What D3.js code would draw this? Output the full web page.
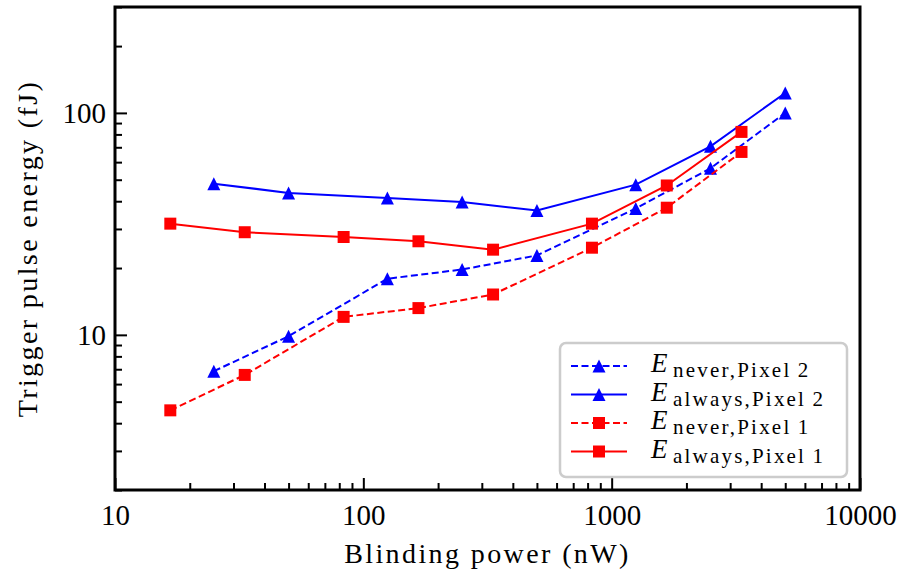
<!DOCTYPE html>
<html>
<head>
<meta charset="utf-8">
<script src="https://cdn.jsdelivr.net/npm/d3@7"></script>
</head>
<body style="margin:0;background:#fff">
<svg id="chart" width="900" height="577"></svg>
<script>
// Blinding power (nW) at which each pixel was measured
const powerPixel2 = [25, 50, 125, 250, 500, 1250, 2500, 5000];
const powerPixel1 = [16.7, 33.3, 83.3, 166.7, 333, 833, 1667, 3333];

// Trigger pulse energy (fJ)
const neverPixel2  = [6.86, 9.86, 17.9, 19.7, 22.8, 37.1, 56.3, 100];
const alwaysPixel2 = [48.0, 43.6, 41.4, 39.7, 36.3, 47.5, 70.7, 123];
const neverPixel1  = [4.57, 6.6, 12.05, 13.2, 15.2, 24.7, 37.4, 66.7];
const alwaysPixel1 = [31.7, 29.0, 27.6, 26.4, 24.2, 31.7, 47.1, 82.1];

const xTickValues = [10, 100, 1000, 10000];
const yTickValues = [10, 100];
const xLabel = "Blinding power (nW)";
const yLabel = "Trigger pulse energy (fJ)";

const series = [
  { name: "never",  pixel: "2", x: powerPixel2, y: neverPixel2,  color: "#0000ff", dashed: true,  marker: "triangle" },
  { name: "always", pixel: "2", x: powerPixel2, y: alwaysPixel2, color: "#0000ff", dashed: false, marker: "triangle" },
  { name: "never",  pixel: "1", x: powerPixel1, y: neverPixel1,  color: "#ff0000", dashed: true,  marker: "square" },
  { name: "always", pixel: "1", x: powerPixel1, y: alwaysPixel1, color: "#ff0000", dashed: false, marker: "square" }
];

const FONT = "Liberation Serif";
const svg = d3.select("#chart");
const plotLeft = 115, plotRight = 860, plotTop = 7, plotBottom = 490;

const x = d3.scaleLog().domain([10, 10000]).range([plotLeft, plotRight]);
const y = d3.scaleLog().domain([2, 300]).range([plotBottom, plotTop]);

// minor tick positions for both log axes
function minorTicks(lo, hi) {
  const out = [];
  for (let d = Math.pow(10, Math.floor(Math.log10(lo))); d < hi; d *= 10) {
    for (let k = 2; k <= 9; k++) {
      const v = k * d;
      if (v >= lo && v <= hi) out.push(v);
    }
  }
  return out;
}

// x axis: inward ticks
svg.append("g").attr("transform", `translate(0,${plotBottom})`)
  .call(d3.axisBottom(x).tickValues(minorTicks(10, 10000)).tickSize(-7).tickFormat(""));
svg.append("g").attr("transform", `translate(0,${plotBottom})`)
  .call(d3.axisBottom(x).tickValues(xTickValues).tickSize(-12).tickPadding(14).tickFormat(d3.format("d")));

// y axis: inward ticks
svg.append("g").attr("transform", `translate(${plotLeft},0)`)
  .call(d3.axisLeft(y).tickValues(minorTicks(2, 300)).tickSize(-7).tickFormat(""));
svg.append("g").attr("transform", `translate(${plotLeft},0)`)
  .call(d3.axisLeft(y).tickValues(yTickValues).tickSize(-12).tickPadding(9).tickFormat(d3.format("d")));

svg.selectAll(".domain").remove();
svg.selectAll("g").attr("font-family", FONT);
svg.selectAll(".tick line").attr("stroke", "#000").attr("stroke-width", 2);
svg.selectAll(".tick text")
  .attr("font-family", FONT)
  .attr("font-size", 29)
  .attr("fill", "#000");

// frame
svg.append("rect")
  .attr("x", plotLeft).attr("y", plotTop)
  .attr("width", plotRight - plotLeft).attr("height", plotBottom - plotTop)
  .attr("fill", "none").attr("stroke", "#000").attr("stroke-width", 3);

// data
svg.append("clipPath").attr("id", "plotclip")
  .append("rect").attr("x", plotLeft).attr("y", plotTop)
  .attr("width", plotRight - plotLeft).attr("height", plotBottom - plotTop);

const line = d3.line().x(d => x(d[0])).y(d => y(d[1]));

function markerPath(type, s) {
  const h = s / 2;
  if (type === "triangle") return `M0,${-h}L${-h},${h}L${h},${h}Z`;
  return `M${-h},${-h}H${h}V${h}H${-h}Z`;
}

const plot = svg.append("g").attr("clip-path", "url(#plotclip)");
series.forEach(s => {
  const pts = s.x.map((v, i) => [v, s.y[i]]);
  plot.append("path")
    .datum(pts)
    .attr("d", line)
    .attr("fill", "none")
    .attr("stroke", s.color)
    .attr("stroke-width", 2)
    .attr("stroke-dasharray", s.dashed ? "7,3.5" : null);
  plot.selectAll(null)
    .data(pts)
    .enter().append("path")
    .attr("transform", d => `translate(${x(d[0])},${y(d[1])})`)
    .attr("d", markerPath(s.marker, s.marker === "triangle" ? 13 : 12))
    .attr("fill", s.color);
});

// axis labels
svg.append("text")
  .attr("x", (plotLeft + plotRight) / 2).attr("y", 563)
  .attr("text-anchor", "middle")
  .attr("font-family", FONT)
  .attr("font-size", 28)
  .attr("letter-spacing", 2.4)
  .text(xLabel);

svg.append("text")
  .attr("transform", `translate(37,${(plotTop + plotBottom) / 2}) rotate(-90)`)
  .attr("text-anchor", "middle")
  .attr("font-family", FONT)
  .attr("font-size", 28)
  .attr("letter-spacing", 2.4)
  .text(yLabel);

// legend
const lg = svg.append("g");
lg.append("rect")
  .attr("x", 560).attr("y", 343).attr("width", 287).attr("height", 134)
  .attr("rx", 6).attr("ry", 6)
  .attr("fill", "#fff").attr("fill-opacity", 0.8)
  .attr("stroke", "#cccccc").attr("stroke-width", 2.5);

const rowY = [366, 394.5, 423, 451.5];
series.forEach((s, i) => {
  const yy = rowY[i];
  lg.append("line")
    .attr("x1", 571).attr("x2", 627).attr("y1", yy).attr("y2", yy)
    .attr("stroke", s.color).attr("stroke-width", 2)
    .attr("stroke-dasharray", s.dashed ? "7,3.5" : null);
  lg.append("path")
    .attr("transform", `translate(599,${yy})`)
    .attr("d", markerPath(s.marker, s.marker === "triangle" ? 13 : 12))
    .attr("fill", s.color);
  // italic E with an upright subscript
  lg.append("text")
    .attr("x", 651).attr("y", yy + 6)
    .attr("font-family", FONT)
    .attr("font-style", "italic")
    .attr("font-size", 27)
    .text("E");
  lg.append("text")
    .attr("x", 673).attr("y", yy + 11)
    .attr("font-family", FONT)
    .attr("font-size", 21)
    .attr("letter-spacing", 2.2)
    .text(`${s.name},Pixel\u2009${s.pixel}`);
});
</script>
</body>
</html>
